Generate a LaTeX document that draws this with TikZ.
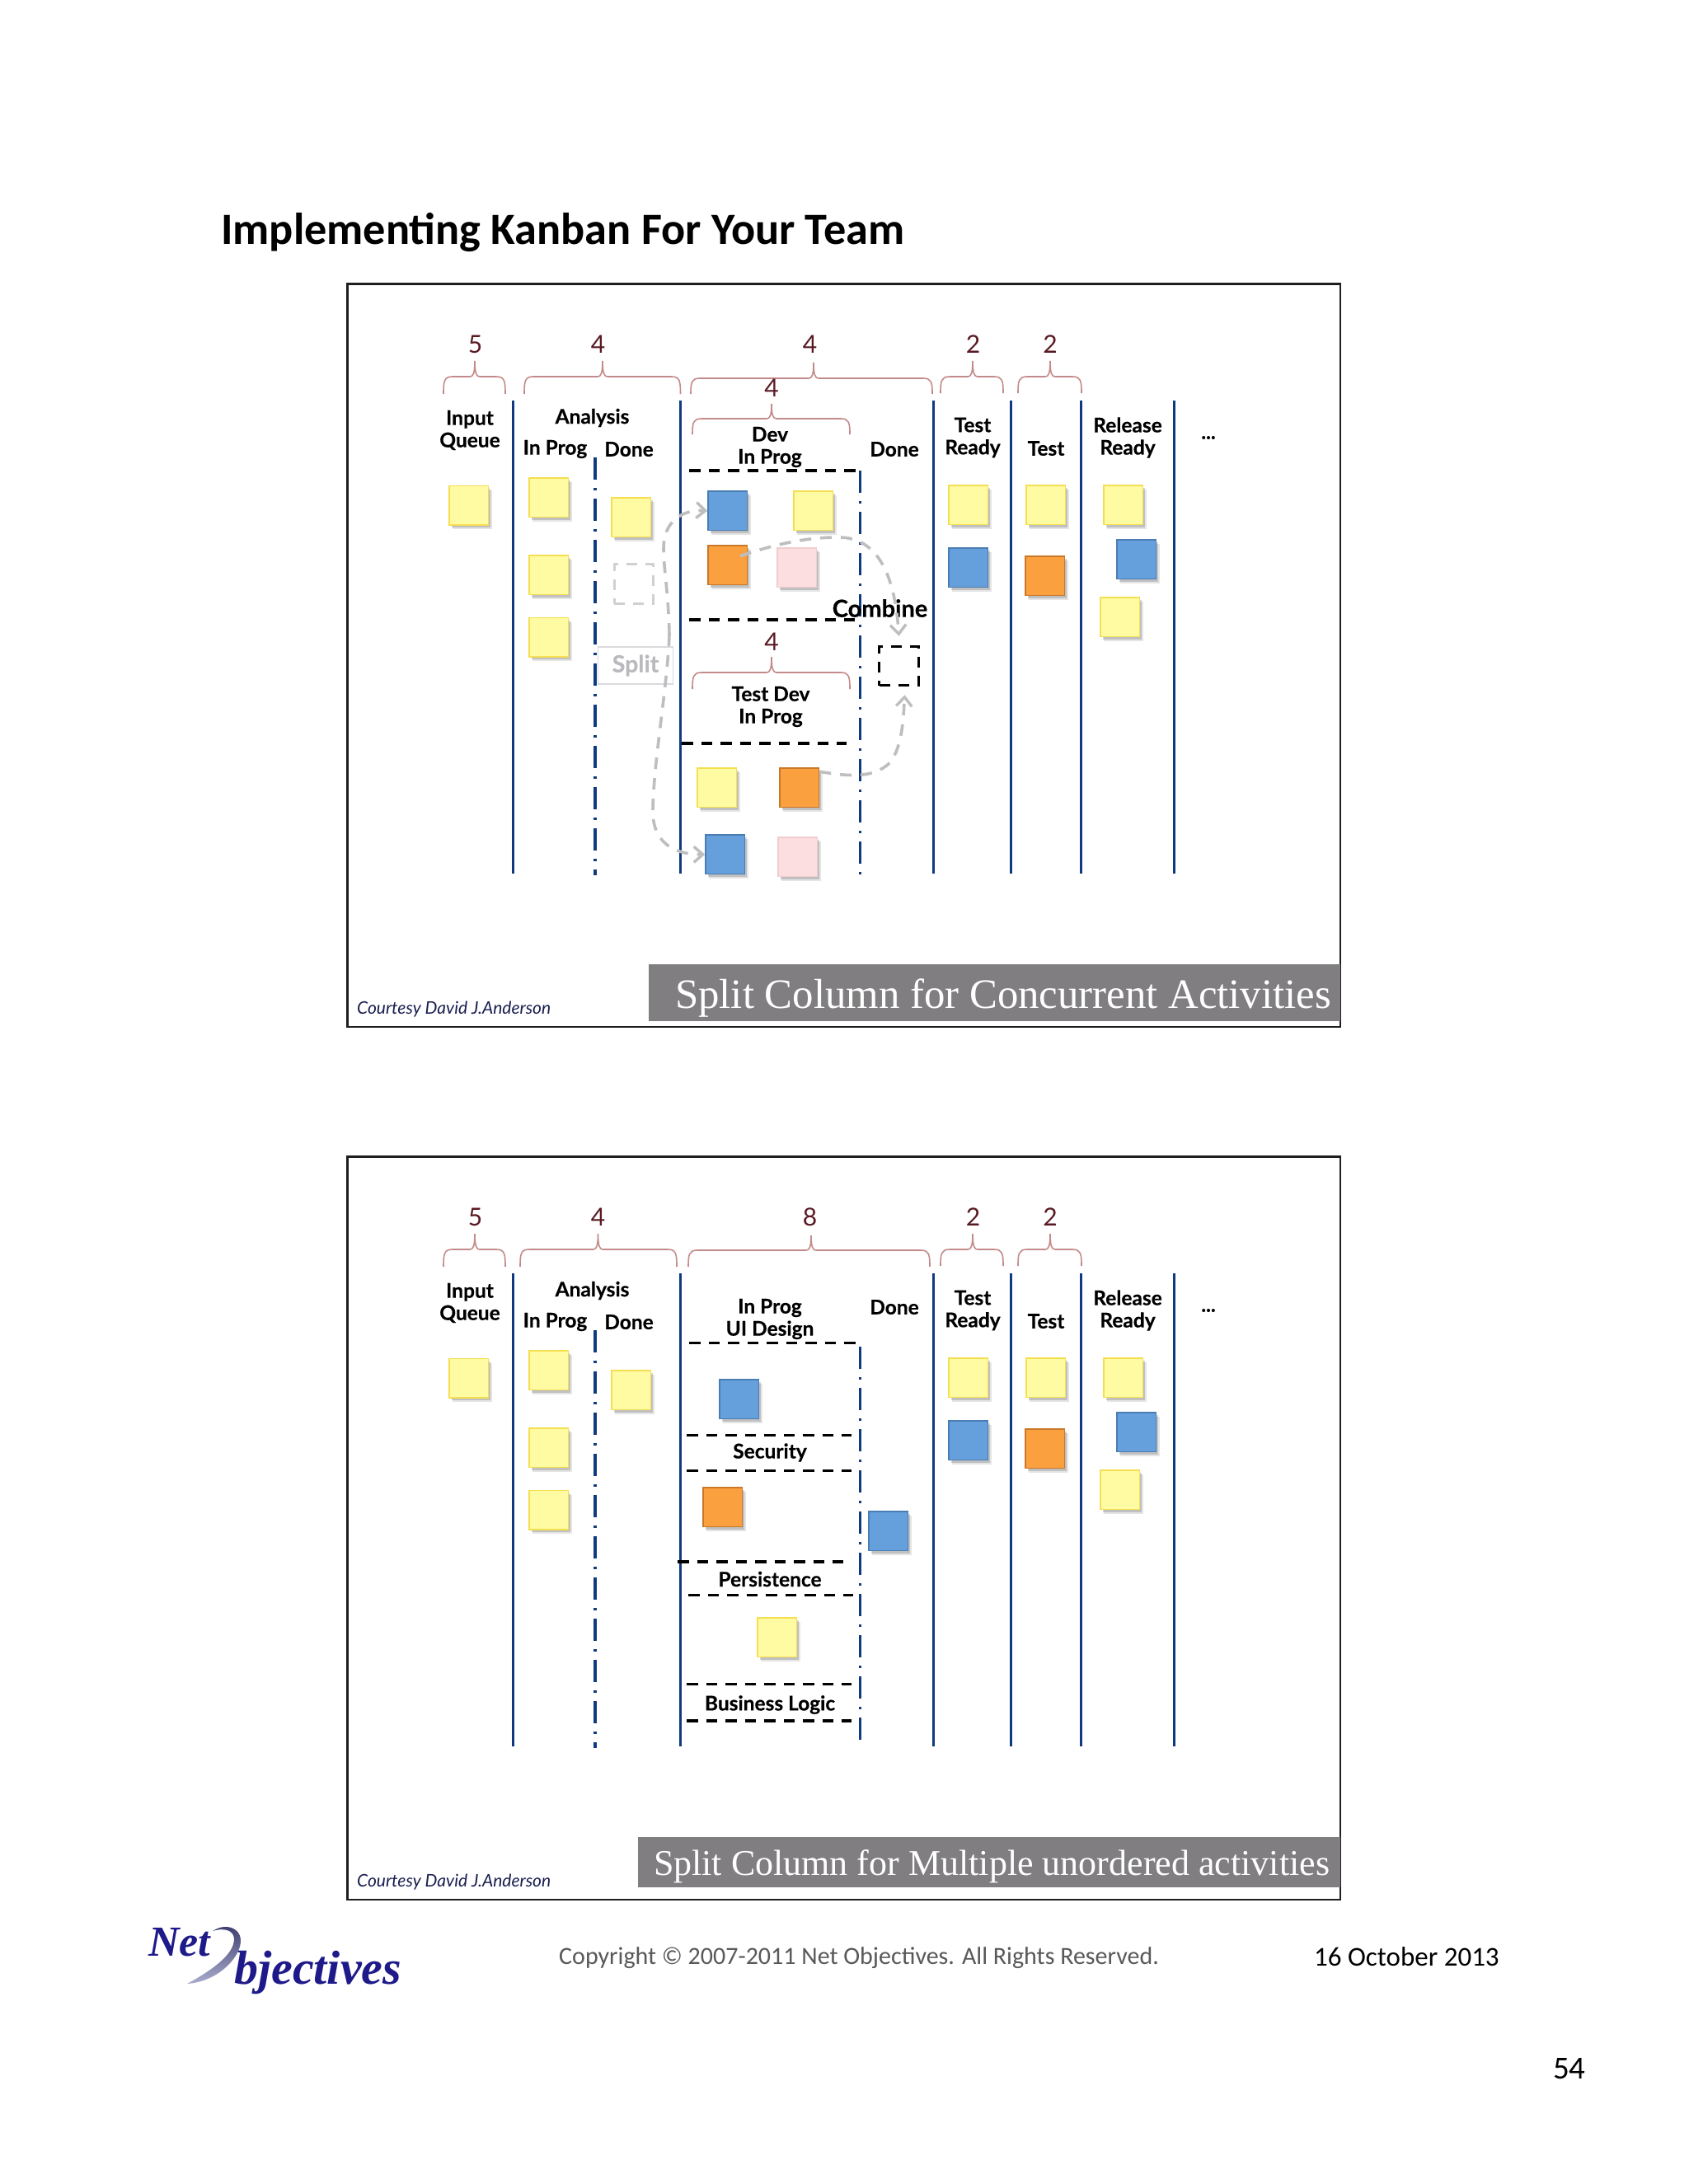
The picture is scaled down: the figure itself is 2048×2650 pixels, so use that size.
\documentclass[tikz,border=0pt]{standalone}
\usepackage{fontspec}
\setmainfont{Lato}
\newfontfamily\labf[BoldFeatures={FakeBold=0.4}]{Lato}
\newfontfamily\carl{Carlito}
\newfontfamily\capfont{Liberation Serif}
\usetikzlibrary{arrows.meta,shadows}
\definecolor{colblue}{HTML}{0F3A80}
\definecolor{limred}{HTML}{5A1A24}
\definecolor{bracered}{HTML}{C48A8A}
\definecolor{capgrey}{HTML}{807E81}
\definecolor{logoblue}{HTML}{1E1A8A}
\tikzset{
  x=1pt,y=-1pt,
  softshadow/.style={general shadow={fill=black,opacity=.10,shadow xshift=4pt,shadow yshift=-5pt},
                     general shadow={fill=black,opacity=.16,shadow xshift=2.5pt,shadow yshift=-3pt}},
  card/.style={rectangle,minimum width=47.5pt,minimum height=47.5pt,inner sep=0,line width=1.4pt,softshadow},
  ycard/.style={card,fill={rgb,255:red,255;green,251;blue,163},draw={rgb,255:red,245;green,222;blue,80}},
  bcard/.style={card,fill={rgb,255:red,101;green,160;blue,220},draw={rgb,255:red,74;green,125;blue,180}},
  ocard/.style={card,fill={rgb,255:red,251;green,160;blue,62},draw={rgb,255:red,200;green,120;blue,40}},
  pcard/.style={card,fill={rgb,255:red,252;green,221;blue,224},draw={rgb,255:red,240;green,205;blue,205}},
  ghostbox/.style={rectangle,minimum width=47.5pt,minimum height=47.5pt,inner sep=0,draw={rgb,255:red,208;green,208;blue,210},line width=3pt,dash pattern=on 13pt off 10pt},
  combinebox/.style={rectangle,minimum width=47.5pt,minimum height=47.5pt,inner sep=0,draw=black,line width=3pt,dash pattern=on 13pt off 10pt},
  solidcol/.style={draw=colblue,line width=3.2pt},
  dotcol/.style={draw=colblue,line width=3.2pt,dash pattern=on 27pt off 10pt on 3pt off 10pt},
  rowdash/.style={draw=black,line width=3.4pt,dash pattern=on 13.5pt off 10pt},
  flow/.style={draw={rgb,255:red,190;green,190;blue,192},line width=3.6pt,dash pattern=on 14pt off 11pt,-{Straight Barb[length=11pt,width=19pt,line width=3.4pt]}},
  bracepath/.style={draw=bracered,line width=1.6pt},
  lab/.style={font=\labf\bfseries\fontsize{24.5}{27}\selectfont,inner sep=0,align=center,text=black},
  limit/.style={font=\fontsize{30}{32}\selectfont,inner sep=0,text=limred},
  courtesy/.style={font=\itshape\fontsize{21}{24}\selectfont,inner sep=0,text={rgb,255:red,25;green,30;blue,80}},
  captxt/.style={font=\capfont\fontsize{50.8}{56}\selectfont,inner sep=0,text=white},
  frame/.style={draw={rgb,255:red,30;green,30;blue,30},line width=2.4pt,fill=white}
}
\newcommand{\limbrace}[6]{%
  \draw[bracepath] (#1,#6) .. controls (#1,#5+5) and (#1+1,#5) .. (#1+11,#5) -- (#3-6,#5) .. controls (#3-2,#5) and (#3,#5-4) .. (#3,#4) .. controls (#3,#5-4) and (#3+2,#5) .. (#3+6,#5) -- (#2-11,#5) .. controls (#2-1,#5) and (#2,#5+5) .. (#2,#6);}
\newcommand{\cardat}[4]{\node[#1] (#2) at (#3+24.75,#4+23.75) {};}
\newcommand{\columns}[1]{%
  \foreach \cx in {622.5,825.5,1132.5,1226.5,1311.5,1424.5} {\draw[solidcol] (\cx,486) -- (\cx,1060);}
  \draw[dotcol] (722,555) -- (722,1062);
  \limbrace{538}{613}{576}{438}{457}{478}
  \limbrace{1141}{1217}{1180}{438}{457}{477}
  \limbrace{1235}{1312}{1274}{438}{457}{477}
  \node[limit] (#1l1) at (576.5,418) {5};
  \node[limit] (#1l2) at (725.5,418) {4};
  \node[limit] (#1l4) at (1180.5,418) {2};
  \node[limit] (#1l5) at (1274,418) {2};
  \node[lab] (#1input) at (570,522) {Input\\Queue};
  \node[lab] (#1analysis) at (718.5,507) {Analysis};
  \node[lab] (#1inprog) at (673.5,545) {In Prog};
  \node[lab] (#1done) at (763,545) {Done};
  \node[lab] (#1testready) at (1180,531) {Test\\Ready};
  \node[lab] (#1test) at (1269,544) {Test};
  \node[lab] (#1release) at (1368,531) {Release\\Ready};
  \node[lab] (#1more) at (1466,531) {...};
  \cardat{ycard}{#1c1}{544}{589.5}
  \cardat{ycard}{#1c2}{641}{580}
  \cardat{ycard}{#1c3}{641}{674}
  \cardat{ycard}{#1c4}{641}{749.5}
  \cardat{ycard}{#1c5}{741}{604}
  \cardat{ycard}{#1c6}{1150}{589}
  \cardat{bcard}{#1c7}{1150}{665}
  \cardat{ycard}{#1c8}{1244}{589}
  \cardat{ocard}{#1c9}{1243}{675}
  \cardat{ycard}{#1c10}{1338}{589}
  \cardat{bcard}{#1c11}{1354}{655}
  \cardat{ycard}{#1c12}{1334}{725}
}
\begin{document}
\begin{tikzpicture}
\useasboundingbox (0,0) rectangle (2048,2650);
\fill[white] (0,0) rectangle (2048,2650);
\node[font=\carl\bfseries\fontsize{54.3}{60}\selectfont,inner sep=0,anchor=west] (title) at (268,282) {Implementing Kanban For Your Team};

% ---------- first board ----------
\draw[frame] (421.5,344.5) rectangle (1626,1246);
\columns{a}
\draw[dotcol] (1043.5,571) -- (1043.5,1062);
\limbrace{636}{825.5}{731}{438}{457}{478}
\limbrace{838}{1131}{987}{440}{459}{478}
\limbrace{840}{1031}{936}{490}{508}{527}
\limbrace{840}{1031}{936}{797}{816}{836}
\node[limit] (al3) at (982.5,418) {4};
\node[limit] (al6) at (936,471) {4};
\node[limit] (al7) at (936,779) {4};
\node[lab] (adoneb) at (1085,545) {Done};
\node[lab] (adev) at (934,542.5) {Dev\\In Prog};
\node[lab] (atestdev) at (935,857.5) {Test Dev\\In Prog};
\draw[rowdash] (836,571) -- (1038,571);
\draw[rowdash] (836,752) -- (1037,752);
\draw[rowdash] (827,902) -- (1027,902);
\cardat{bcard}{ablue}{858}{596}
\cardat{ycard}{ad2}{962}{596}
\cardat{ocard}{aorange}{858}{662}
\cardat{pcard}{ad4}{942}{665}
\cardat{ycard}{ad5}{845}{932}
\cardat{ocard}{aorangeb}{945}{932}
\cardat{bcard}{abluec}{855}{1013}
\cardat{pcard}{ad8}{943}{1016}
\node[ghostbox] (aghost) at (769,708.5) {};
\node[combinebox] (acombine) at (1090.5,808) {};
\node[rectangle,draw={rgb,255:red,218;green,218;blue,222},line width=1.6pt,minimum width=91pt,minimum height=45pt,inner sep=0,font=\labf\bfseries\fontsize{28.5}{30}\selectfont,text={rgb,255:red,186;green,186;blue,190}] (asplit) at (771,807.5) {Split};
\coordinate (asplitpt) at (812,770);
\node[lab,font=\labf\bfseries\fontsize{29}{30}\selectfont] (acombinel) at (1067.5,738) {Combine};
\draw[flow] (asplitpt) .. controls (811,720) and (805,690) .. (805,665) .. controls (805,635) and (825,618) .. (ablue.west);
\draw[flow] (asplitpt) .. controls (810,830) and (792,930) .. (792,985) .. controls (792,1020) and (815,1037) .. (abluec.west);
\draw[flow] ([xshift=15pt,yshift=11pt]aorange.center) .. controls (935,662) and (975,652) .. (1015,652) .. controls (1075,650) and (1087,720) .. ([yshift=11pt]acombine.north);
\draw[flow] (aorangeb.north east) ++(0,5) .. controls (1030,942) and (1060,945) .. (1080,925) .. controls (1095,905) and (1096,870) .. ([xshift=7pt,yshift=-10pt]acombine.south);
\fill[capgrey] (787,1170) rectangle (1626,1239);
\node[captxt] (acap) at (1217,1211) {Split Column for Concurrent Activities};
\node[courtesy,anchor=west] (acourt) at (433,1225) {Courtesy David J.Anderson};

% ---------- second board ----------
\draw[frame] (421.5,1403.5) rectangle (1626,2305);
\begin{scope}[shift={(0,1059)}]
\columns{b}
\draw[dotcol] (1043.5,575) -- (1043.5,1053);
\limbrace{631}{821}{725.5}{438}{457}{478}
\limbrace{835}{1128}{984}{440}{458}{478}
\node[limit] (bl3) at (982.5,418) {8};
\node[lab] (bdoneb) at (1085,527) {Done};
\node[lab] (bui) at (934,541.5) {In Prog\\UI Design};
\node[lab] (bsec) at (934,703.5) {Security};
\node[lab] (bper) at (934,857) {Persistence};
\node[lab] (bbus) at (934,1009.5) {Business Logic};
\draw[rowdash] (836,570.5) -- (1038,570.5);
\draw[rowdash] (833,682.5) -- (1033,682.5);
\draw[rowdash] (833,725.5) -- (1033,725.5);
\draw[rowdash] (822,836) -- (1023,836);
\draw[rowdash] (835,876.5) -- (1035,876.5);
\draw[rowdash] (833,984.5) -- (1033,984.5);
\draw[rowdash] (833,1029) -- (1033,1029);
\cardat{bcard}{bd1}{872}{615}
\cardat{ocard}{bd2}{852}{746}
\cardat{bcard}{bd3}{1053}{775}
\cardat{ycard}{bd4}{918}{904}
\end{scope}
\fill[capgrey] (774,2229) rectangle (1626,2290);
\node[captxt,font=\capfont\fontsize{44}{50}\selectfont] (bcap) at (1203,2265) {Split Column for Multiple unordered activities};
\node[courtesy,anchor=west] (bcourt) at (433,2284) {Courtesy David J.Anderson};

% ---------- footer ----------
\shade[top color={rgb,255:red,60;green,60;blue,110},bottom color={rgb,255:red,170;green,172;blue,205}] (227,2407) .. controls (272,2404) and (302,2362) .. (289,2345) .. controls (283,2337) and (270,2335) .. (258,2343) .. controls (270,2339) and (284,2341) .. (284,2353) .. controls (284,2372) and (255,2392) .. (227,2407) -- cycle;
\node[font=\capfont\bfseries\itshape\fontsize{52}{56}\selectfont,inner sep=0,anchor=base west,text=logoblue] (lnet) at (180,2373) {Net};
\node[font=\capfont\bfseries\itshape\fontsize{58}{60}\selectfont,inner sep=0,anchor=base west,text=logoblue] (lobj) at (284,2407) {bjectives};
\node[font=\carl\fontsize{30}{34}\selectfont,inner sep=0,anchor=west,text={rgb,255:red,89;green,89;blue,89}] (copy) at (678,2376) {Copyright © 2007-2011 Net Objectives. All Rights Reserved.};
\node[font=\carl\fontsize{33}{36}\selectfont,inner sep=0,anchor=west] (date) at (1594,2374) {16 October 2013};
\node[font=\carl\fontsize{39}{42}\selectfont,inner sep=0,anchor=west] (page) at (1884,2510) {54};
\end{tikzpicture}
\end{document}
